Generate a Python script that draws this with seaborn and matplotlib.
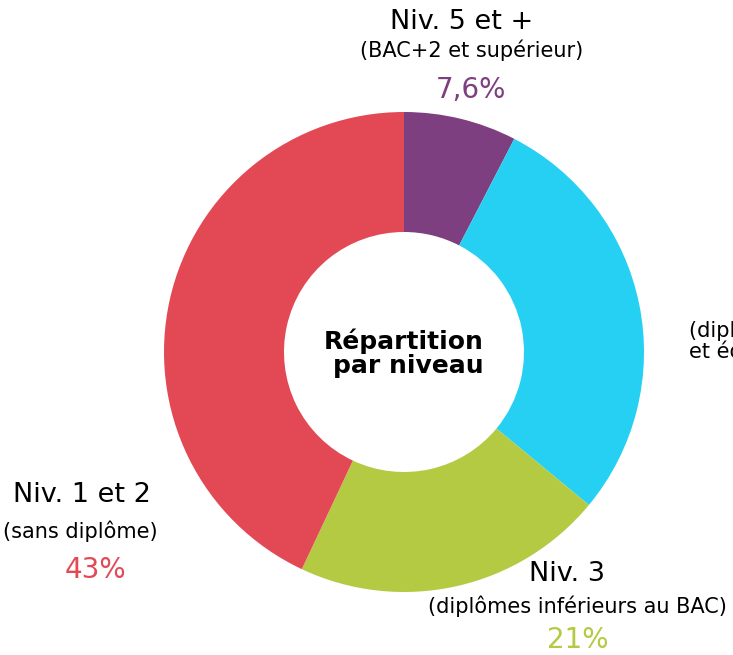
import matplotlib.pyplot as plt
import seaborn as sns

# Donnees : repartition par niveau de diplome
niveaux = ["Niv. 5 et +", "Niv. 4", "Niv. 3", "Niv. 1 et 2"]
sous_titres = ["(BAC+2 et supérieur)", "(diplômes de niveau BAC\net équivalents)",
               "(diplômes inférieurs au BAC)", "(sans diplôme)"]
parts = [7.6, 28.4, 21, 43]
parts_txt = ["7,6%", "28,4%", "21%", "43%"]
couleurs = ["#7D3F7F", "#26D0F2", "#B3CA42", "#E34955"]

W, H = 733, 655

sns.set_theme(style="white")
plt.rcParams['font.family'] = ['DejaVu Sans']

fig = plt.figure(figsize=(W / 100, H / 100), dpi=100)
ax = fig.add_axes([0, 0, 1, 1])

# Anneau (le centre et le rayon en pixels)
cx, cy, r = 404, H - 352, 240
ax.pie(parts, colors=couleurs, startangle=90, counterclock=False,
       center=(cx, cy), radius=r, frame=True,
       wedgeprops=dict(width=r / 2, linewidth=0))
ax.set_xlim(0, W)
ax.set_ylim(0, H)
ax.axis('off')

# Texte au centre
ax.text(484, H - 353, "Répartition\npar niveau", ha='right', va='center',
        multialignment='right', fontsize=18, fontweight='bold', color='black',
        linespacing=1.0)

# Etiquettes (x, y du titre, du sous-titre et du pourcentage en pixels)
pos = {
    0: ((462, 22), (472, 50), (471, 90)),
    2: ((567, 574), (577, 606), (578, 640)),
    3: ((82, 495), (80, 531), (95, 570)),
}
for i, ((tx, ty), (sx, sy), (px, py)) in pos.items():
    ax.text(tx, H - ty, niveaux[i], ha='center', va='center', fontsize=19.5, color='black')
    ax.text(sx, H - sy, sous_titres[i], ha='center', va='center', fontsize=15, color='black')
    ax.text(px, H - py, parts_txt[i], ha='center', va='center', fontsize=20, color=couleurs[i])

# Etiquette du niveau 4, coupee par le bord droit comme dans l'original
ax.text(689, H - 341, sous_titres[1], ha='left', va='center', fontsize=15,
        color='black', linespacing=0.95)

fig.savefig("out.png", dpi=100)
